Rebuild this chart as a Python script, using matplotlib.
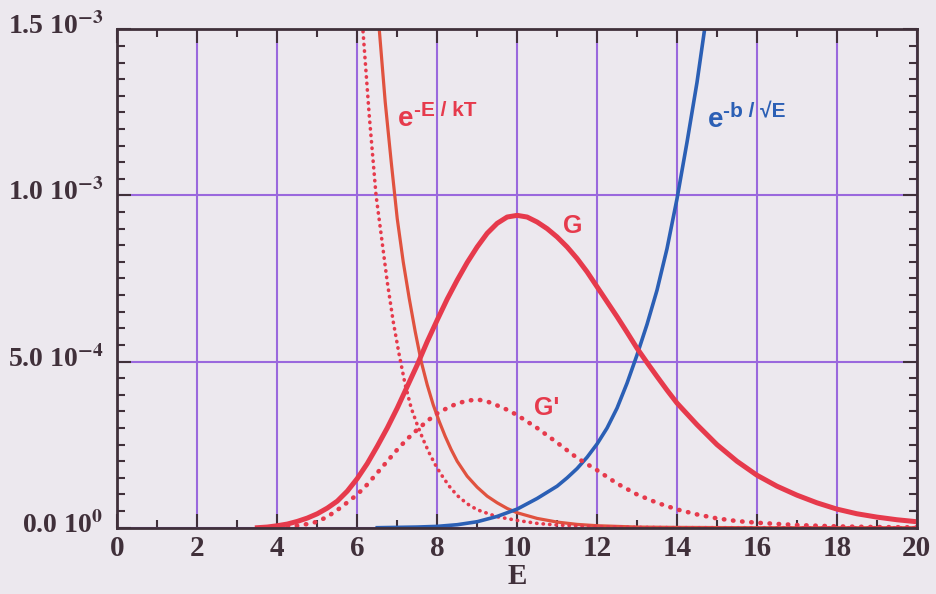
import numpy as np
import matplotlib
matplotlib.use('Agg')
import matplotlib.pyplot as plt
import matplotlib.transforms as mtransforms

# 读图得到的数据，纵坐标单位为 1e-3。
E_G = [3.5, 3.75, 4, 4.25, 4.5, 4.75, 5, 5.25, 5.5, 5.75, 6, 6.25, 6.5, 6.75, 7, 7.25,
       7.5, 7.75, 8, 8.25, 8.5, 8.75, 9, 9.25, 9.5, 9.75, 10, 10.25, 10.5, 10.75, 11,
       11.25, 11.5, 11.75, 12, 12.25, 12.5, 12.75, 13, 13.25, 13.5, 13.75, 14, 14.5, 15,
       15.5, 16, 16.5, 17, 17.5, 18, 18.5, 19, 19.5, 20]
G = [0.0, 0.002, 0.006, 0.011, 0.019, 0.029, 0.042, 0.059, 0.08, 0.11, 0.148, 0.193,
     0.245, 0.3, 0.36, 0.425, 0.49, 0.56, 0.625, 0.688, 0.745, 0.798, 0.845, 0.886, 0.916,
     0.935, 0.94, 0.935, 0.92, 0.9, 0.875, 0.845, 0.81, 0.77, 0.725, 0.68, 0.635, 0.588,
     0.54, 0.497, 0.455, 0.414, 0.375, 0.31, 0.25, 0.2, 0.158, 0.125, 0.098, 0.075, 0.056,
     0.042, 0.032, 0.024, 0.018]

E_GP = [3.8, 4.25, 4.5, 4.75, 5, 5.25, 5.5, 5.75, 6, 6.25, 6.5, 6.75, 7, 7.25, 7.5, 7.75,
        8, 8.25, 8.5, 8.75, 9, 9.25, 9.5, 9.75, 10, 10.5, 11, 11.5, 12, 12.5, 13, 13.5,
        14, 14.5, 15, 15.5, 16, 17, 18, 19, 20]
G_PRIME = [0.0, 0.003, 0.006, 0.011, 0.018, 0.033, 0.053, 0.076, 0.1, 0.13, 0.165, 0.2,
           0.235, 0.267, 0.295, 0.321, 0.344, 0.36, 0.374, 0.382, 0.386, 0.38, 0.368,
           0.355, 0.339, 0.3, 0.256, 0.21, 0.173, 0.133, 0.1, 0.075, 0.055, 0.04, 0.028,
           0.02, 0.015, 0.008, 0.004, 0.002, 0.001]

E_EXP = [6.4, 6.55, 6.7, 6.85, 7, 7.15, 7.3, 7.45, 7.6, 7.75, 7.9, 8.05, 8.2, 8.35, 8.5,
         8.75, 9, 9.25, 9.5, 9.75, 10, 10.5, 11, 11.5, 12, 13, 14, 16, 20]
EXP_KT = [1.7, 1.5, 1.28, 1.1, 0.93, 0.8, 0.69, 0.59, 0.5, 0.43, 0.37, 0.32, 0.275, 0.235,
          0.2, 0.155, 0.122, 0.095, 0.075, 0.058, 0.045, 0.028, 0.017, 0.01, 0.006, 0.002,
          0.001, 0.0, 0.0]

E_EXP2 = [6.0, 6.14, 6.3, 6.47, 6.6, 6.75, 6.9, 7.05, 7.2, 7.35, 7.5, 7.65, 7.8, 7.95,
          8.1, 8.3, 8.5, 8.75, 9, 9.5, 10, 10.5, 11, 12, 13, 14, 20]
EXP_KT2 = [1.75, 1.5, 1.24, 1.0, 0.88, 0.74, 0.62, 0.52, 0.43, 0.36, 0.31, 0.265, 0.225,
           0.19, 0.16, 0.125, 0.097, 0.072, 0.054, 0.033, 0.022, 0.013, 0.008, 0.003,
           0.001, 0.0, 0.0]

E_B = [6.5, 7, 7.5, 8, 8.5, 9, 9.5, 10, 10.5, 11, 11.25, 11.5, 11.75, 12, 12.25, 12.5,
       12.75, 13, 13.25, 13.5, 13.75, 14, 14.25, 14.5, 14.75]
EXP_B = [0.0, 0.001, 0.002, 0.004, 0.009, 0.018, 0.034, 0.056, 0.088, 0.125, 0.15, 0.178,
         0.212, 0.252, 0.3, 0.36, 0.435, 0.52, 0.612, 0.715, 0.84, 0.99, 1.16, 1.34, 1.55]

SCALE = 1e-3
X_TICKS = list(range(0, 21, 2))
Y_TICKS = [0.0, 0.5e-3, 1.0e-3, 1.5e-3]
Y_LABELS = ['0.0 10$^{\\mathbf{0}}$', '5.0 10$^{\\mathbf{-4}}$',
            '1.0 10$^{\\mathbf{-3}}$', '1.5 10$^{\\mathbf{-3}}$']

BG = '#ece8ee'
GRID = '#9a68dd'
RED = '#e63a4c'
ORANGE = '#e0523f'
BLUE = '#2b5fb5'
DARK = '#40303a'

plt.rcParams['font.family'] = ['Liberation Serif', 'DejaVu Serif']
plt.rcParams['font.weight'] = 'bold'
plt.rcParams['mathtext.fontset'] = 'stix'

fig = plt.figure(figsize=(9.36, 5.94), dpi=100, facecolor=BG)
ax = fig.add_axes([0.1255, 0.1116, 0.854, 0.8391], facecolor=BG)

# 网格
ax.set_axisbelow(True)
ax.grid(True, color=GRID, linewidth=1.5)

# 曲线
ax.plot(E_EXP, np.array(EXP_KT) * SCALE, color=ORANGE, linewidth=2.3)
ax.plot(E_EXP2, np.array(EXP_KT2) * SCALE, color=RED, linewidth=2.6,
        linestyle=(0, (0.1, 1.7)), dash_capstyle='round')
ax.plot(E_B, np.array(EXP_B) * SCALE, color=BLUE, linewidth=2.6)
ax.plot(E_GP, np.array(G_PRIME) * SCALE, color=RED, linewidth=3.3,
        linestyle=(0, (0.1, 1.9)), dash_capstyle='round')
ax.plot(E_G, np.array(G) * SCALE, color=RED, linewidth=3.6)

ax.set_xlim(0, 20)
ax.set_ylim(0, 1.5e-3)
ax.set_xticks(X_TICKS, [str(v) for v in X_TICKS])
ax.set_yticks(Y_TICKS, Y_LABELS)
ax.set_xticks(np.arange(1, 20, 2), minor=True)
ax.set_yticks(np.arange(0, 1.5001e-3, 0.05e-3), minor=True)
ax.tick_params(which='both', direction='in', top=True, right=True, color=DARK,
               width=1.5, labelcolor=DARK)
ax.tick_params(which='major', length=10)
ax.tick_params(which='minor', length=6)
ax.tick_params(axis='x', pad=5, labelsize=21)
ax.tick_params(axis='y', pad=10, labelsize=20)
for spine in ax.spines.values():
    spine.set_color(DARK)
    spine.set_linewidth(2)

# y 刻度标签稍微上移
offset = mtransforms.ScaledTranslation(0, -0.05, fig.dpi_scale_trans)
for lbl in ax.get_yticklabels():
    lbl.set_va('baseline')
    lbl.set_transform(lbl.get_transform() + offset)

ax.set_xlabel('E', fontsize=21, fontweight='bold', color=DARK, labelpad=1)

# 曲线标注
sans = ['Liberation Sans', 'DejaVu Sans']
t1 = ax.text(7.02, 1.21e-3, 'e', color=RED, fontsize=20, fontweight='bold', family=sans)
ax.annotate('-E / kT', xy=(1.0, 0.45), xycoords=t1, color=RED, fontsize=15,
            fontweight='bold', family=sans, va='bottom', ha='left')
t2 = ax.text(14.76, 1.205e-3, 'e', color=BLUE, fontsize=20, fontweight='bold', family=sans)
ax.annotate('-b / \u221aE', xy=(1.0, 0.45), xycoords=t2, color=BLUE, fontsize=15,
            fontweight='bold', family=sans, va='bottom', ha='left')
ax.text(11.38, 0.907e-3, 'G', color=RED, fontsize=18, fontweight='bold', family=sans,
        ha='center', va='center')
ax.text(10.75, 0.36e-3, "G'", color=RED, fontsize=18, fontweight='bold', family=sans,
        ha='center', va='center')

fig.savefig('out.png', dpi=100, facecolor=BG)
